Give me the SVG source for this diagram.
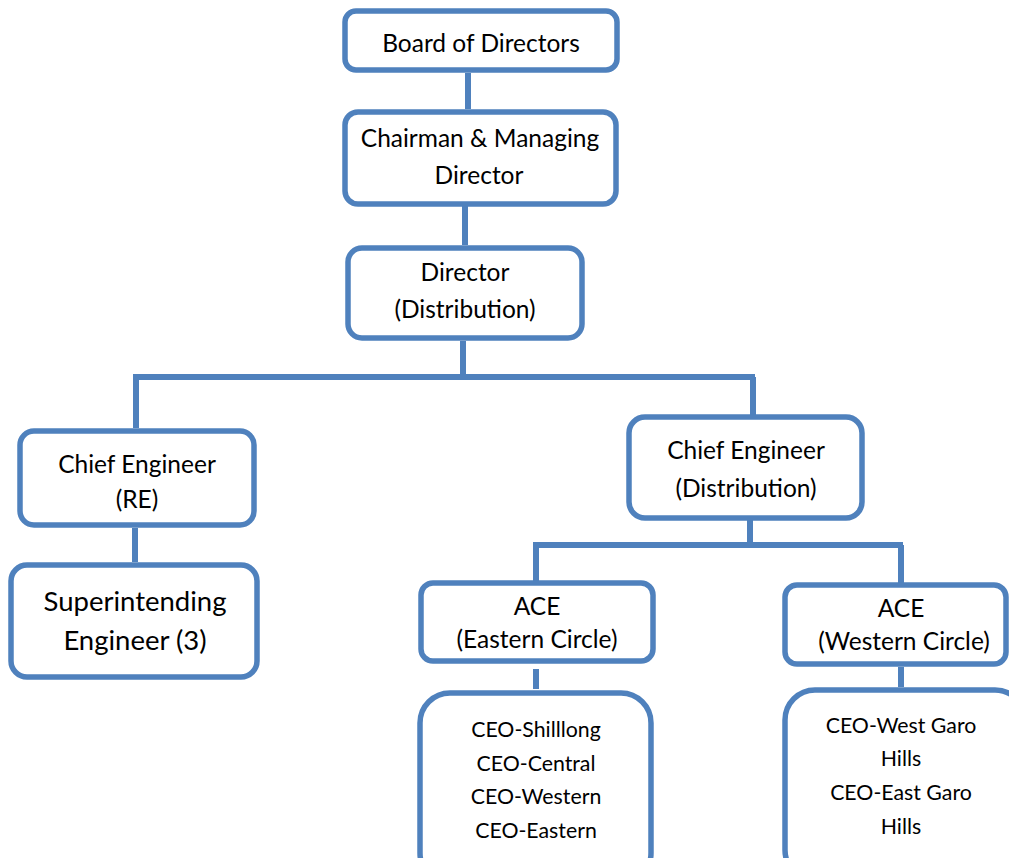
<svg xmlns="http://www.w3.org/2000/svg" width="1009" height="858" viewBox="0 0 1009 858">
<style>
.box{fill:#fff;stroke:#4F81BD;stroke-width:5.5}
.ln{fill:none;stroke:#4F81BD;stroke-width:6}
text{font-family:Lato,"Liberation Sans",sans-serif;fill:#000;text-anchor:middle;font-size:24.5px}
.s{font-size:21.3px}
.l{font-size:27.5px}
</style>
<rect width="1009" height="858" fill="#fff"/>
<g id="connectors">
<path class="ln" d="M468 73V109"/>
<path class="ln" d="M465 206V245"/>
<path class="ln" d="M463 341V377"/>
<path class="ln" d="M133 377H755"/>
<path class="ln" d="M136 377V428"/>
<path class="ln" d="M753 377V416"/>
<path class="ln" d="M135 528V562"/>
<path class="ln" d="M750 520V545"/>
<path class="ln" d="M533 545H903"/>
<path class="ln" d="M536 545V581"/>
<path class="ln" d="M901 545V583"/>
<path class="ln" d="M536 669V689"/>
<path class="ln" d="M901 667V687"/>
</g>
<g id="board"><rect class="box" x="345" y="11" width="272" height="59" rx="11"/><text x="481" y="52">Board of Directors</text></g>
<g id="cmd"><rect class="box" x="345" y="112" width="271" height="92" rx="13"/><text x="480" y="147">Chairman &amp; Managing</text><text x="479" y="184">Director</text></g>
<g id="director"><rect class="box" x="348" y="248" width="234" height="90" rx="14"/><text x="465" y="281">Director</text><text x="465" y="318">(Distribution)</text></g>
<g id="ce-re"><rect class="box" x="20" y="431" width="234" height="94" rx="14"/><text x="137" y="473">Chief Engineer</text><text x="137" y="508">(RE)</text></g>
<g id="se"><rect class="box" x="11" y="565" width="246" height="112" rx="16"/><text class="l" x="135" y="611">Superintending</text><text class="l" x="135" y="650">Engineer (3)</text></g>
<g id="ce-dist"><rect class="box" x="629" y="417" width="233" height="101" rx="16"/><text x="746" y="459">Chief Engineer</text><text x="746" y="497">(Distribution)</text></g>
<g id="ace-east"><rect class="box" x="421" y="583" width="232" height="78" rx="12"/><text x="537" y="615">ACE</text><text x="537" y="648">(Eastern Circle)</text></g>
<g id="ace-west"><rect class="box" x="785" y="585" width="221" height="79" rx="12"/><text x="901" y="617">ACE</text><text x="904" y="650">(Western Circle)</text></g>
<g id="ceo-east"><rect class="box" x="420" y="693" width="231" height="190" rx="30"/><text class="s" x="536" y="737">CEO-Shilllong</text><text class="s" x="536" y="771">CEO-Central</text><text class="s" x="536" y="804">CEO-Western</text><text class="s" x="536" y="838">CEO-Eastern</text></g>
<g id="ceo-west"><rect class="box" x="785" y="690" width="240" height="190" rx="30"/><text class="s" x="901" y="733">CEO-West Garo</text><text class="s" x="901" y="766">Hills</text><text class="s" x="901" y="800">CEO-East Garo</text><text class="s" x="901" y="834">Hills</text></g>
</svg>
